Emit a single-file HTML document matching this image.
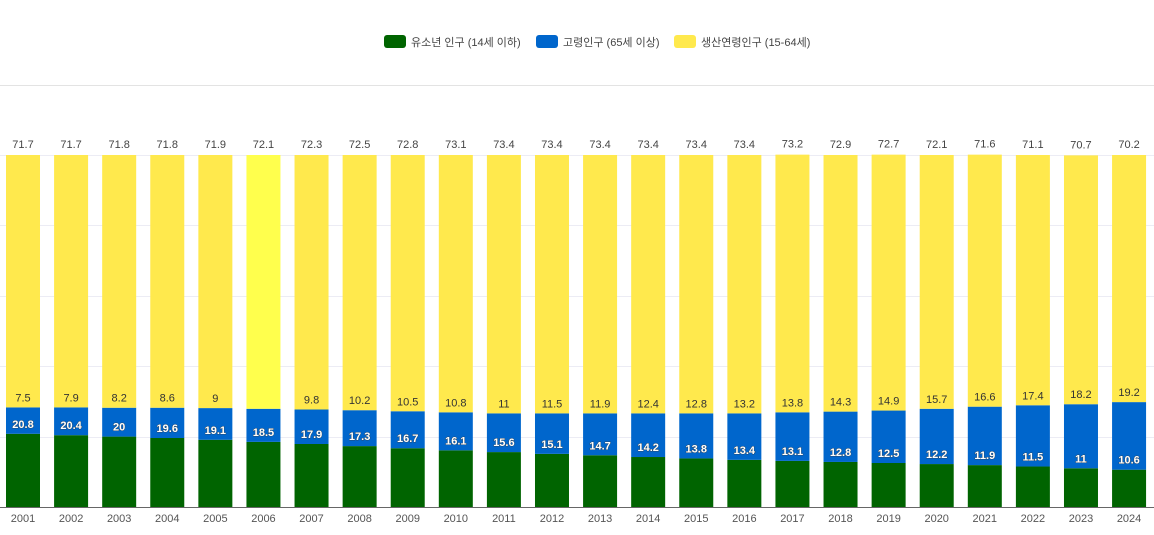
<!DOCTYPE html>
<html><head><meta charset="utf-8">
<style>
html,body{margin:0;padding:0;background:#fff;}
body{width:1154px;height:530px;overflow:hidden;font-family:"Liberation Sans","Noto Sans CJK KR",sans-serif;}
svg text{font-family:"Liberation Sans","Noto Sans CJK KR",sans-serif;}
</style></head>
<body>
<svg id="chart" width="1154" height="530">
  <g>
    <g>
      <rect x="384" y="35" width="22" height="13" rx="3" fill="#006400"/>
      <text x="411" y="46" font-size="11" fill="#444">유소년 인구 (14세 이하)</text>
    </g>
    <g>
      <rect x="536" y="35" width="22" height="13" rx="3" fill="#0066cc"/>
      <text x="563" y="46" font-size="11" fill="#444">고령인구 (65세 이상)</text>
    </g>
    <g>
      <rect x="674" y="35" width="22" height="13" rx="3" fill="#ffe94d"/>
      <text x="701" y="46" font-size="11" fill="#444">생산연령인구 (15-64세)</text>
    </g>
  </g>
  <line x1="0" y1="85.5" x2="1154" y2="85.5" stroke="#e3e3e3"/>
  <g id="grid"></g>
  <g id="bars"></g>
  <line x1="0" y1="507.5" x2="1154" y2="507.5" stroke="#666"/>
  <g id="xlabels"></g>
</svg>
<script>
const years=["2001","2002","2003","2004","2005","2006","2007","2008","2009","2010","2011","2012","2013","2014","2015","2016","2017","2018","2019","2020","2021","2022","2023","2024"];
const youth=[20.8,20.4,20,19.6,19.1,18.5,17.9,17.3,16.7,16.1,15.6,15.1,14.7,14.2,13.8,13.4,13.1,12.8,12.5,12.2,11.9,11.5,11,10.6];
const elderly=[7.5,7.9,8.2,8.6,9,9.4,9.8,10.2,10.5,10.8,11,11.5,11.9,12.4,12.8,13.2,13.8,14.3,14.9,15.7,16.6,17.4,18.2,19.2];
const working=[71.7,71.7,71.8,71.8,71.9,72.1,72.3,72.5,72.8,73.1,73.4,73.4,73.4,73.4,73.4,73.4,73.2,72.9,72.7,72.1,71.6,71.1,70.7,70.2];
const yTicks=[0,20,40,60,80,100];
const highlightIndex=5;
const NS="http://www.w3.org/2000/svg";
const top0=155,base=507,x0=23,step=48.09,bw=34;
const y=v=>base-(v/100)*(base-top0);
const xc=i=>x0+i*step;
function mk(tag,attrs,parent){const e=document.createElementNS(NS,tag);for(const k in attrs)e.setAttribute(k,attrs[k]);parent.appendChild(e);return e;}
const grid=document.getElementById('grid'),bars=document.getElementById('bars'),xl=document.getElementById('xlabels');
yTicks.forEach(t=>{if(t===0)return;const l=mk('line',{x1:0,x2:1154,y1:Math.round(y(t))+0.5,y2:Math.round(y(t))+0.5,stroke:'#ececf4'},grid);

});
years.forEach((yr,i)=>{
  const g=mk('g',{},bars);
  
  
  const x=xc(i)-bw/2;
  const a=youth[i],b=elderly[i],c=working[i];
  const r1=mk('rect',{x:x,y:y(a),width:bw,height:base-y(a),fill:'#006400'},g);
  
  
  const r2=mk('rect',{x:x,y:y(a+b),width:bw,height:y(a)-y(a+b),fill:'#0066cc'},g);
  
  
  const r3=mk('rect',{x:x,y:y(a+b+c),width:bw,height:y(a+b)-y(a+b+c),fill:i===highlightIndex?'#ffff4d':'#ffe94d'},g);
  
  
  const t1=mk('text',{x:xc(i),y:y(a)-6,'text-anchor':'middle','font-size':11,'font-weight':'bold',fill:'#fff',stroke:'#345','stroke-width':0.8,'paint-order':'stroke'},g);
  t1.textContent=a;
  
  
  if(i!==highlightIndex){
    const t2=mk('text',{x:xc(i),y:y(a+b)-6,'text-anchor':'middle','font-size':11,fill:'#333'},g);
    t2.textContent=b;
    
    
  }
  const t3=mk('text',{x:xc(i),y:y(a+b+c)-7,'text-anchor':'middle','font-size':11,fill:'#444'},g);
  t3.textContent=c;
  
  
  const tx=mk('text',{x:xc(i),y:522,'text-anchor':'middle','font-size':11,fill:'#555'},xl);
  tx.textContent=yr;
  
  
});
</script>
</body></html>
